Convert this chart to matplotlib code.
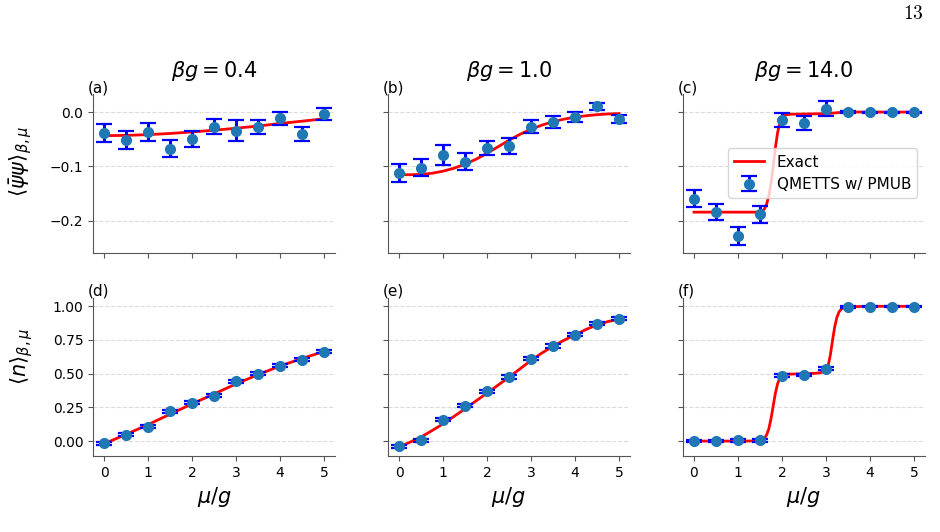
import numpy as np
import matplotlib
matplotlib.use("Agg")
import matplotlib.pyplot as plt

# ---------------- data ----------------
mu_pts = [0, 0.5, 1, 1.5, 2, 2.5, 3, 3.5, 4, 4.5, 5]
titles = [r"$\beta g = 0.4$", r"$\beta g = 1.0$", r"$\beta g = 14.0$"]
panel_labels = ["(a)", "(b)", "(c)", "(d)", "(e)", "(f)"]

# chiral condensate, QMETTS points and errors
psi_a = [-0.0385, -0.0516, -0.0366, -0.0677, -0.0503, -0.0267, -0.0342, -0.0280, -0.0112, -0.0398, -0.0030]
psi_a_err = [0.016, 0.016, 0.016, 0.016, 0.015, 0.014, 0.020, 0.013, 0.012, 0.013, 0.011]
psi_b = [-0.1124, -0.1025, -0.0795, -0.0913, -0.0658, -0.0627, -0.0273, -0.0180, -0.0087, 0.0106, -0.0124]
psi_b_err = [0.0165, 0.016, 0.018, 0.015, 0.013, 0.014, 0.012, 0.011, 0.009, 0.006, 0.007]
psi_c = [-0.1596, -0.1845, -0.2292, -0.1888, -0.0143, -0.0205, 0.0062, 0.0006, 0.0, 0.0, 0.0]
psi_c_err = [0.016, 0.015, 0.0165, 0.0155, 0.013, 0.013, 0.0135, 0.002, 0.001, 0.001, 0.001]

# number density, QMETTS points and errors
n_d = [-0.015, 0.047, 0.106, 0.220, 0.284, 0.336, 0.444, 0.499, 0.558, 0.605, 0.664]
n_d_err = [0.012, 0.012, 0.012, 0.012, 0.012, 0.012, 0.012, 0.011, 0.011, 0.011, 0.011]
n_e = [-0.040, 0.007, 0.158, 0.262, 0.370, 0.474, 0.610, 0.706, 0.790, 0.872, 0.909]
n_e_err = [0.012, 0.012, 0.012, 0.012, 0.012, 0.015, 0.012, 0.012, 0.011, 0.010, 0.010]
n_f = [0.0, 0.0, 0.005, 0.005, 0.486, 0.491, 0.536, 0.995, 0.998, 0.998, 0.998]
n_f_err = [0.008, 0.008, 0.008, 0.008, 0.010, 0.008, 0.012, 0.005, 0.003, 0.003, 0.003]

# exact curves
ex_a_mu = [0, 0.5, 1, 1.5, 2, 2.5, 3, 3.5, 4, 4.5, 5]
ex_a = [-0.0435, -0.0430, -0.0416, -0.0395, -0.0366, -0.0335, -0.0298, -0.0257, -0.0211, -0.0168, -0.0124]

ex_b_mu = [0, 0.25, 0.5, 0.75, 1, 1.25, 1.5, 1.75, 2, 2.25, 2.5, 2.75, 3, 3.25, 3.5, 3.75, 4, 4.25, 4.5, 4.75, 5]
ex_b = [-0.1155, -0.1155, -0.1150, -0.1128, -0.1090, -0.1035, -0.0960, -0.0870, -0.0760, -0.0640, -0.0520,
        -0.0410, -0.0318, -0.0240, -0.0178, -0.0130, -0.0095, -0.0068, -0.0048, -0.0035, -0.0028]

ex_c_mu = [0, 0.5, 1, 1.4, 1.5, 1.55, 1.6, 1.65, 1.7, 1.75, 1.8, 1.85, 1.9, 1.95, 2.0, 2.05, 2.1, 2.2, 2.5,
           3.0, 3.1, 3.2, 3.3, 3.4, 3.6, 4, 4.5, 5]
ex_c = [-0.1845, -0.1845, -0.1845, -0.1845, -0.1838, -0.1825, -0.1790, -0.1700, -0.1550, -0.1320, -0.1000,
        -0.0660, -0.0380, -0.0200, -0.0100, -0.0065, -0.0050, -0.0040, -0.0036, -0.0030, -0.0024, -0.0016,
        -0.0008, -0.0003, 0.0, 0.0, 0.0, 0.0]

ex_d_mu = [0, 0.5, 1, 1.5, 2, 2.5, 3, 3.5, 4, 4.5, 5]
ex_d = [-0.020, 0.050, 0.122, 0.200, 0.276, 0.350, 0.424, 0.493, 0.557, 0.613, 0.665]

ex_e_mu = [0, 0.25, 0.5, 0.75, 1, 1.25, 1.5, 1.75, 2, 2.25, 2.5, 2.75, 3, 3.25, 3.5, 3.75, 4, 4.25, 4.5, 4.75, 5]
ex_e = [-0.044, -0.008, 0.030, 0.078, 0.128, 0.183, 0.240, 0.298, 0.356, 0.415, 0.474, 0.536, 0.598, 0.654,
        0.704, 0.748, 0.788, 0.828, 0.862, 0.887, 0.904]

ex_f_mu = [0, 0.5, 1, 1.4, 1.5, 1.55, 1.6, 1.65, 1.7, 1.75, 1.8, 1.85, 1.9, 1.95, 2.0, 2.05, 2.1, 2.3, 2.5,
           2.7, 2.85, 2.95, 3.0, 3.05, 3.1, 3.15, 3.2, 3.25, 3.3, 3.35, 3.4, 3.5, 4, 4.5, 5]
ex_f = [0.0, 0.0, 0.0, 0.001, 0.003, 0.008, 0.020, 0.045, 0.090, 0.165, 0.260, 0.355, 0.425, 0.468, 0.486,
        0.493, 0.496, 0.498, 0.500, 0.502, 0.506, 0.515, 0.528, 0.560, 0.640, 0.750, 0.850, 0.920, 0.960,
        0.980, 0.990, 0.997, 1.0, 1.0, 1.0]

top_pts = [(psi_a, psi_a_err), (psi_b, psi_b_err), (psi_c, psi_c_err)]
bot_pts = [(n_d, n_d_err), (n_e, n_e_err), (n_f, n_f_err)]
top_exact = [(ex_a_mu, ex_a), (ex_b_mu, ex_b), (ex_c_mu, ex_c)]
bot_exact = [(ex_d_mu, ex_d), (ex_e_mu, ex_e), (ex_f_mu, ex_f)]

top_yticks = [-0.2, -0.1, 0.0]
bot_yticks = [0.0, 0.25, 0.5, 0.75, 1.0]
xticks = [0, 1, 2, 3, 4, 5]

# ---------------- figure ----------------
fig, axes = plt.subplots(2, 3, figsize=(9.4, 5.32), dpi=100, sharex=True, sharey='row')
fig.subplots_adjust(left=0.099, right=0.984, bottom=0.143, top=0.823, wspace=0.219, hspace=0.284)

spine_col = "#555555"
for r in range(2):
    for c in range(3):
        ax = axes[r, c]
        pts, err = (top_pts if r == 0 else bot_pts)[c]
        exx, exy = (top_exact if r == 0 else bot_exact)[c]
        ax.plot(exx, exy, color="red", lw=2, label="Exact", zorder=2)
        ax.errorbar(mu_pts, pts, yerr=err, fmt="o", color="#1f77b4", ms=7,
                    ecolor="blue", elinewidth=2.2, capsize=6, capthick=1.6,
                    label="QMETTS w/ PMUB", zorder=3)
        ax.spines["top"].set_visible(False)
        ax.spines["right"].set_visible(False)
        ax.spines["left"].set_color(spine_col)
        ax.spines["bottom"].set_color(spine_col)
        ax.tick_params(colors=spine_col, labelcolor="black", labelsize=10)
        ax.grid(axis="y", linestyle="--", color="#cccccc", alpha=0.7, lw=0.8)
        ax.set_axisbelow(True)
        ax.set_xticks(xticks)
        ax.set_yticks(top_yticks if r == 0 else bot_yticks)
        ax.text(-0.02, 1.04, panel_labels[r * 3 + c], transform=ax.transAxes,
                fontsize=11, ha="left", va="center")
        if r == 0:
            ax.set_title(titles[c], fontsize=15, pad=12)
        else:
            ax.set_xlabel(r"$\mu/g$", fontsize=15)

axes[0, 0].set_xlim(-0.25, 5.25)
axes[0, 0].set_ylim(-0.259, 0.033)
axes[1, 0].set_ylim(-0.11, 1.065)

axes[0, 2].legend(loc="center right", fontsize=11)

fig.text(0.023, 0.697, r"$\langle\bar{\psi}\psi\rangle_{\beta,\mu}$", rotation=90,
         fontsize=15, ha="center", va="center")
fig.text(0.023, 0.331, r"$\langle n\rangle_{\beta,\mu}$", rotation=90,
         fontsize=15, ha="center", va="center")
fig.text(0.972, 0.975, r"$\mathrm{13}$", fontsize=14, ha="center", va="center", math_fontfamily="cm")

fig.savefig("out.png", dpi=100)
